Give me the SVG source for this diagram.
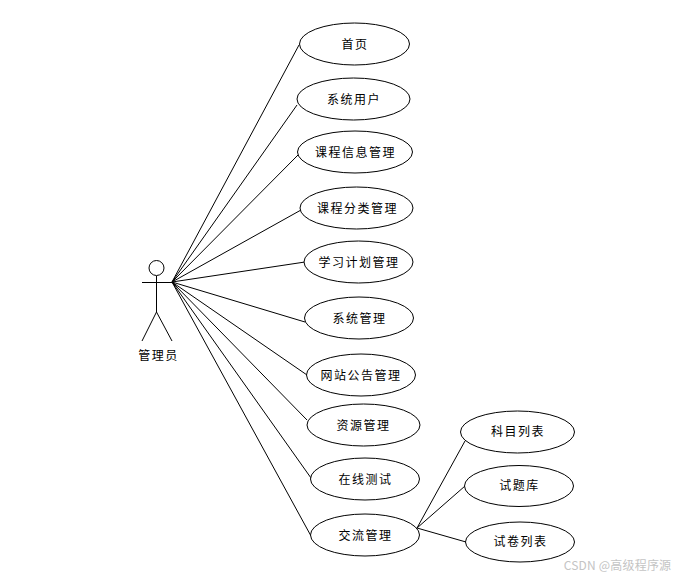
<svg xmlns="http://www.w3.org/2000/svg" width="681" height="580" viewBox="0 0 681 580">
<style>
.n ellipse{fill:#fff;stroke:#000;stroke-width:1}
#connectors line,#actor line,#actor circle{stroke:#000;stroke-width:1;fill:#fff}
text{font-family:"Noto Sans CJK SC","Liberation Sans",sans-serif;font-size:12px;text-anchor:middle;letter-spacing:1.5px;fill:#000}
.wm{font-size:12px;letter-spacing:0.2px;fill:#c4c4c4}
</style>
<rect width="681" height="580" fill="#fff"/>
<g id="connectors">
<line x1="172" y1="282" x2="299" y2="45"/>
<line x1="172" y1="282" x2="297" y2="105"/>
<line x1="172" y1="282" x2="298" y2="155"/>
<line x1="172" y1="282" x2="301" y2="210"/>
<line x1="172" y1="282" x2="305" y2="262"/>
<line x1="172" y1="282" x2="305" y2="322"/>
<line x1="172" y1="282" x2="307" y2="375"/>
<line x1="172" y1="282" x2="307" y2="420"/>
<line x1="172" y1="282" x2="311" y2="478"/>
<line x1="172" y1="282" x2="311" y2="536"/>
<line x1="417" y1="528" x2="465" y2="441"/>
<line x1="417" y1="528" x2="465" y2="486"/>
<line x1="417" y1="528" x2="466" y2="542"/>
</g>
<g id="actor">
<circle cx="156.500" cy="268" r="7.500"/>
<line x1="142" y1="282.500" x2="172" y2="282.500"/>
<line x1="156.500" y1="276" x2="156.500" y2="312"/>
<line x1="156.500" y1="312" x2="142" y2="341"/>
<line x1="156.500" y1="312" x2="172" y2="341"/>
<text x="158.500" y="360">管理员</text>
</g>
<g id="n1" class="n"><ellipse cx="354.500" cy="44" rx="55" ry="21"/><text x="355" y="49">首页</text></g>
<g id="n2" class="n"><ellipse cx="353.500" cy="99" rx="56.500" ry="21"/><text x="354" y="104">系统用户</text></g>
<g id="n3" class="n"><ellipse cx="355" cy="152" rx="57.500" ry="21"/><text x="355.500" y="157">课程信息管理</text></g>
<g id="n4" class="n"><ellipse cx="356.500" cy="208" rx="56.500" ry="21"/><text x="357.500" y="213">课程分类管理</text></g>
<g id="n5" class="n"><ellipse cx="358.500" cy="262" rx="54.500" ry="21"/><text x="359" y="267">学习计划管理</text></g>
<g id="n6" class="n"><ellipse cx="359" cy="318" rx="54.500" ry="21"/><text x="359.500" y="323">系统管理</text></g>
<g id="n7" class="n"><ellipse cx="361" cy="375" rx="54.500" ry="21"/><text x="361" y="380">网站公告管理</text></g>
<g id="n8" class="n"><ellipse cx="363.500" cy="425" rx="56.500" ry="21"/><text x="363.500" y="430">资源管理</text></g>
<g id="n9" class="n"><ellipse cx="365" cy="479" rx="54.500" ry="21"/><text x="365.500" y="484">在线测试</text></g>
<g id="n10" class="n"><ellipse cx="365" cy="535" rx="54.500" ry="21"/><text x="365.500" y="540">交流管理</text></g>
<g id="n11" class="n"><ellipse cx="517.500" cy="432" rx="57" ry="21"/><text x="518" y="436">科目列表</text></g>
<g id="n12" class="n"><ellipse cx="519" cy="486" rx="54.500" ry="20.500"/><text x="519.500" y="490">试题库</text></g>
<g id="n13" class="n"><ellipse cx="520" cy="542" rx="54.500" ry="20"/><text x="520.500" y="546">试卷列表</text></g>
<text class="wm" x="617.500" y="570">CSDN @高级程序源</text>
</svg>
